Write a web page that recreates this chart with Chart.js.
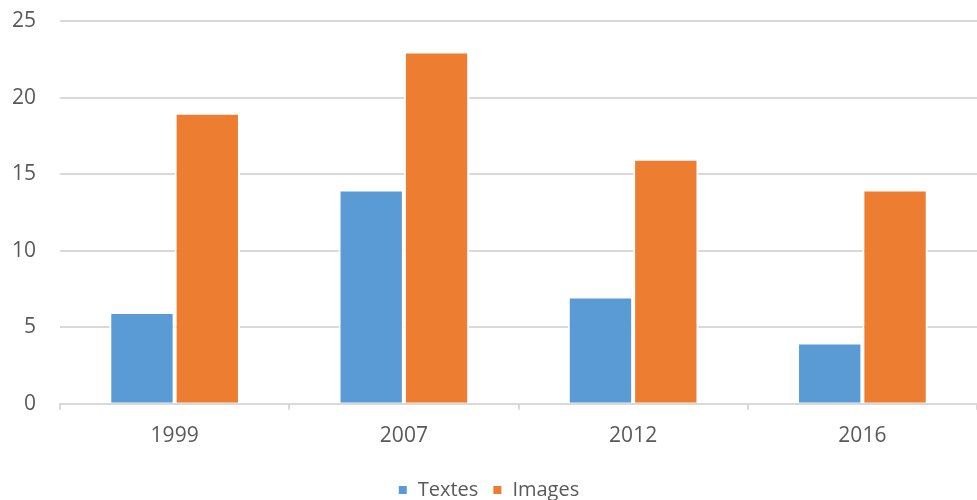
<!DOCTYPE html>
<html>
<head>
<meta charset="utf-8">
<script src="https://cdn.jsdelivr.net/npm/chart.js@4"></script>
<style>
  html, body { margin: 0; padding: 0; background: #fff; }
  #c { display: block; }
</style>
</head>
<body>
<canvas id="c" width="977" height="500"></canvas>
<script>
var years = ['1999', '2007', '2012', '2016'];
var textes = [6, 14, 7, 4];
var images = [19, 23, 16, 14];
var yTicks = [0, 5, 10, 15, 20, 25];

var gray = '#595959';
var gridColor = '#d9d9d9';

var ctx = document.getElementById('c');
var myChart = new Chart(ctx, {
    type: 'bar',
    data: {
        labels: years,
        datasets: [{
            label: 'Textes',
            data: textes,
            backgroundColor: '#5b9bd5',
            borderColor: '#ffffff',
            borderWidth: 2,
            borderSkipped: 'bottom'
        }, {
            label: 'Images',
            data: images,
            backgroundColor: '#ed7d31',
            borderColor: '#ffffff',
            borderWidth: 2,
            borderSkipped: 'bottom'
        }] // datasets
    },
    options: {
        responsive: false,
        animation: false,
        categoryPercentage: 0.57,
        barPercentage: 1.0,
        layout: { padding: { top: 0, right: 0, left: 0, bottom: -10 } },
        plugins: {
            tooltip: { enabled: false },
            legend: {
                position: 'bottom',
                labels: {
                    boxWidth: 10,
                    boxHeight: 10,
                    color: gray,
                    padding: 14,
                    font: { family: 'Open Sans', size: 20 }
                }
            }
        },
        scales: {
            x: {
                offset: true,
                afterFit: function(scale) {
                    scale.height += 3;
                    scale.paddingLeft = 0;
                    scale.paddingRight = 0;
                },
                grid: {
                    offset: true,
                    drawOnChartArea: false,
                    color: gridColor,
                    tickLength: 6,
                    lineWidth: 2
                },
                border: { color: gridColor, width: 2 },
                ticks: {
                    color: gray,
                    padding: 14,
                    font: { family: 'Open Sans', size: 21 }
                }
            },
            y: {
                min: 0,
                max: 25,
                afterBuildTicks: function(axis) {
                    axis.ticks = yTicks.map(function(v) { return { value: v }; });
                },
                afterFit: function(scale) {
                    scale.paddingTop = 21;
                    scale.width = 60;
                },
                grid: {
                    color: gridColor,
                    lineWidth: 2,
                    drawTicks: false
                },
                border: { display: false },
                ticks: {
                    color: gray,
                    padding: 24,
                    font: { family: 'Open Sans', size: 21 }
                }
            }
        }
    }
}); // myChart
</script>
</body>
</html>
